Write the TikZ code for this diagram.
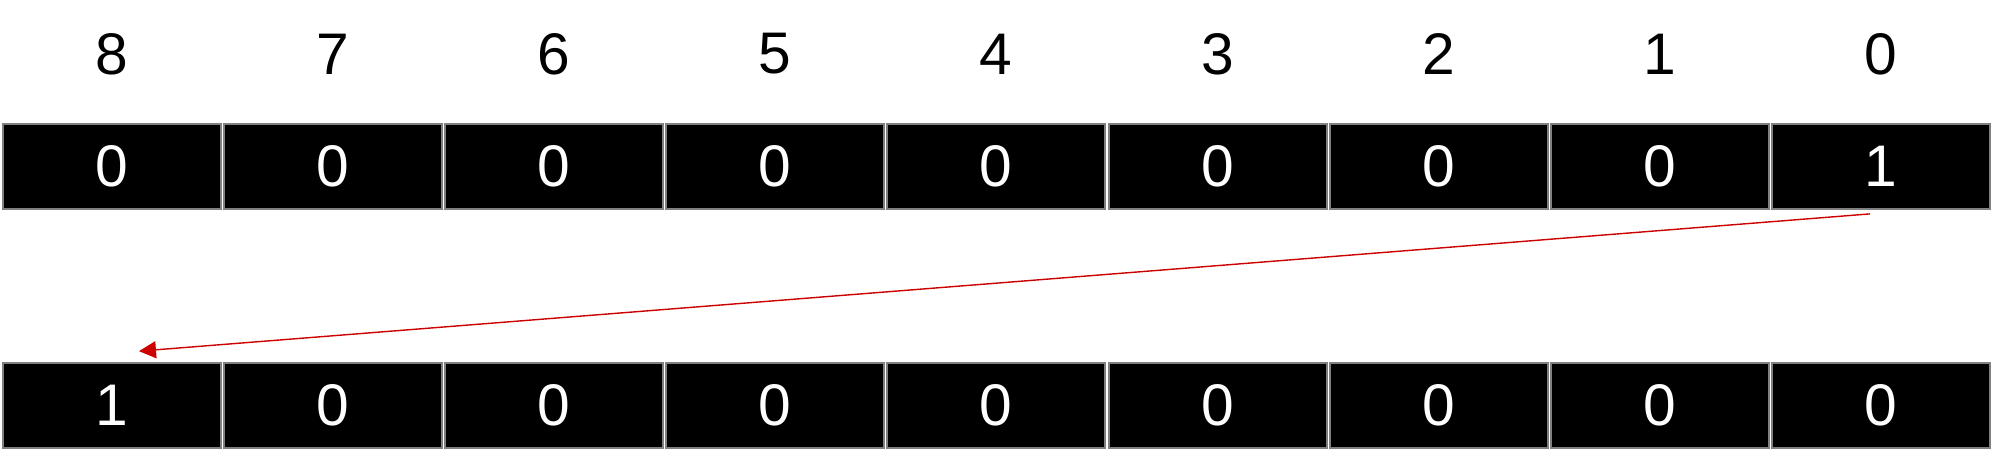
\documentclass[tikz,border=0pt]{standalone}
\usepackage{fontspec}
\setmainfont{Liberation Sans}
\usetikzlibrary{arrows.meta}
\definecolor{shiftred}{HTML}{CC0000}

\begin{document}
\begin{tikzpicture}[thick, every node/.style={font=\fontsize{16.7}{20}\selectfont}]
    \tikzset{bit/.style={draw=gray,line width=0.5pt,fill=black,text=white,minimum width=2.18cm,minimum height=0.85cm,inner sep=0pt}}
    \useasboundingbox (0,0) rectangle (20,-4.72);
    % bit positions
    \node (p8) at (1.12,-0.54) {8};
    \node (p7) at (3.33,-0.54) {7};
    \node (p6) at (5.54,-0.54) {6};
    \node (p5) at (7.75,-0.54) {5};
    \node (p4) at (9.96,-0.54) {4};
    \node (p3) at (12.18,-0.54) {3};
    \node (p2) at (14.39,-0.54) {2};
    \node (p1) at (16.60,-0.54) {1};
    \node (p0) at (18.81,-0.54) {0};
    % register before the shift
    \node[bit] (t8) at (1.12,-1.665) {0};
    \node[bit] (t7) at (3.33,-1.665) {0};
    \node[bit] (t6) at (5.54,-1.665) {0};
    \node[bit] (t5) at (7.75,-1.665) {0};
    \node[bit] (t4) at (9.96,-1.665) {0};
    \node[bit] (t3) at (12.18,-1.665) {0};
    \node[bit] (t2) at (14.39,-1.665) {0};
    \node[bit] (t1) at (16.60,-1.665) {0};
    \node[bit] (t0) at (18.81,-1.665) {1};
    % register after the shift
    \node[bit] (b8) at (1.12,-4.055) {1};
    \node[bit] (b7) at (3.33,-4.055) {0};
    \node[bit] (b6) at (5.54,-4.055) {0};
    \node[bit] (b5) at (7.75,-4.055) {0};
    \node[bit] (b4) at (9.96,-4.055) {0};
    \node[bit] (b3) at (12.18,-4.055) {0};
    \node[bit] (b2) at (14.39,-4.055) {0};
    \node[bit] (b1) at (16.60,-4.055) {0};
    \node[bit] (b0) at (18.81,-4.055) {0};
    \coordinate (from) at ([xshift=-0.11cm,yshift=-0.04cm]t0.south);
    \coordinate (to) at ([xshift=0.27cm,yshift=0.11cm]b8.north);
    \draw[shiftred,line width=0.4pt,-{Triangle[length=0.17cm,width=0.17cm]}] (from) -- (to);
\end{tikzpicture}
\end{document}
